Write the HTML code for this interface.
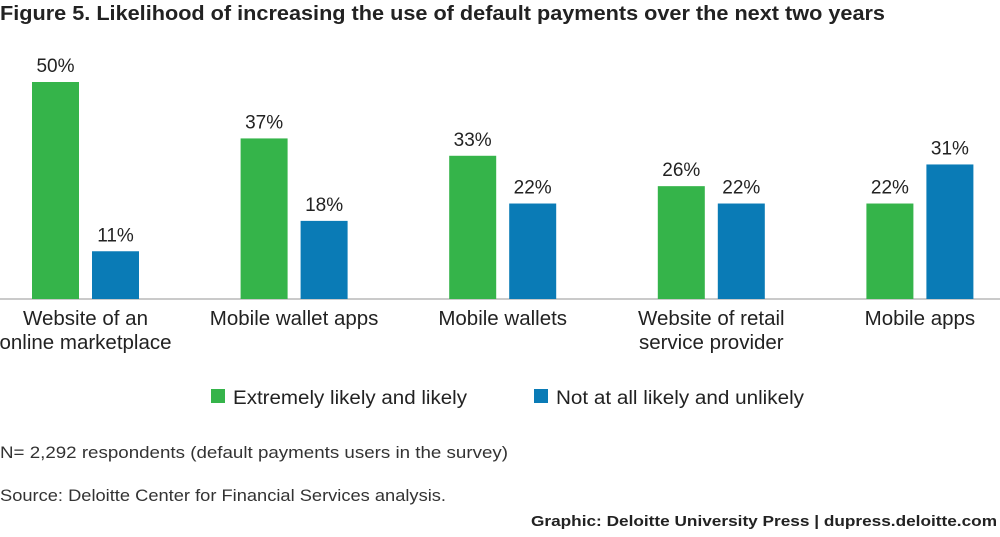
<!DOCTYPE html>
<html><head><meta charset="utf-8"><style>
body{margin:0;background:#fff;font-family:"Liberation Sans",sans-serif;}
svg text{font-family:"Liberation Sans",sans-serif;}
</style></head><body>
<svg id="chart" width="1000" height="532" viewBox="0 0 1000 532">
<text x="0" y="20" font-size="20" font-weight="bold" fill="#222" textLength="885" lengthAdjust="spacingAndGlyphs">Figure 5. Likelihood of increasing the use of default payments over the next two years</text>
<line x1="0" y1="299" x2="1000" y2="299" stroke="#aaa" stroke-width="1.2"/>
<g id="bars"></g>
<rect x="211" y="389" width="14" height="14" fill="#35b44a"/>
<text x="233" y="404" font-size="19" fill="#222" textLength="234" lengthAdjust="spacingAndGlyphs">Extremely likely and likely</text>
<rect x="534" y="389" width="14" height="14" fill="#0a7bb6"/>
<text x="556" y="404" font-size="19" fill="#222" textLength="248" lengthAdjust="spacingAndGlyphs">Not at all likely and unlikely</text>
<text x="0" y="458" font-size="17" fill="#333" textLength="508" lengthAdjust="spacingAndGlyphs">N= 2,292 respondents (default payments users in the survey)</text>
<text x="0" y="501" font-size="17" fill="#333" textLength="446" lengthAdjust="spacingAndGlyphs">Source: Deloitte Center for Financial Services analysis.</text>
<text x="531" y="526" font-size="15" font-weight="bold" fill="#222" textLength="466" lengthAdjust="spacingAndGlyphs">Graphic: Deloitte University Press  |  dupress.deloitte.com</text>
</svg>
<script>
const categories=[["Website of an","online marketplace"],["Mobile wallet apps"],["Mobile wallets"],["Website of retail","service provider"],["Mobile apps"]];
const likely=[50,37,33,26,22];
const unlikely=[11,18,22,22,31];
const NS="http://www.w3.org/2000/svg";
const g=document.getElementById('bars');
const base=299,pxPer=4.34,groupW=208.6,first=32,bw=47,gap=13;
const y=v=>base-v*pxPer;
const xg=i=>first+i*groupW;
function mk(t,a){const e=document.createElementNS(NS,t);for(const k in a)e.setAttribute(k,a[k]);g.appendChild(e);return e;}
categories.forEach((c,i)=>{
 [[likely[i],'#35b44a',0,'likely'],[unlikely[i],'#0a7bb6',bw+gap,'unlikely']].forEach(([v,col,off,nm])=>{
  const r=mk('rect',{x:xg(i)+off,y:y(v),width:bw,height:base-y(v),fill:col});
  
  
  const t=mk('text',{x:xg(i)+off+bw/2,y:y(v)-10,'font-size':19,fill:'#222','text-anchor':'middle'});
  t.textContent=v+'%';
  
  
 });
 c.forEach((line,j)=>{
  const t=mk('text',{x:xg(i)+bw+gap/2,y:325+j*24,'font-size':20.5,fill:'#222','text-anchor':'middle'});
  t.textContent=line;
  
  
 });
});
</script>
</body></html>
